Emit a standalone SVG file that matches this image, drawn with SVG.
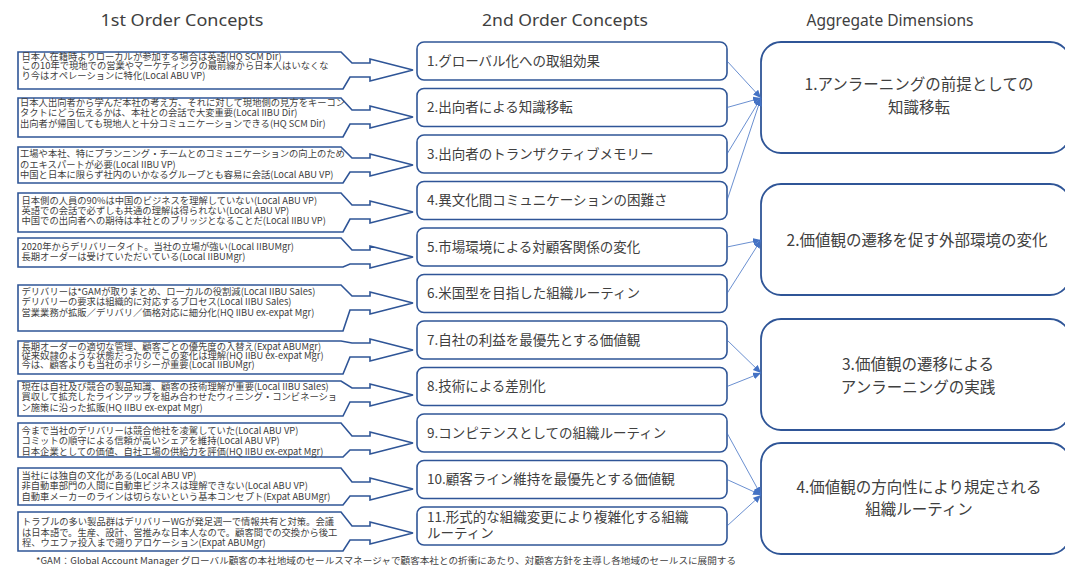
<svg xmlns="http://www.w3.org/2000/svg" width="1065" height="566" viewBox="0 0 1065 566">
  <style>
    .hdr { font-family: "Noto Sans", "Liberation Sans", sans-serif; font-size: 17px; fill: #404040; text-anchor: middle; }
    .call { fill: #ffffff; stroke: #2F5597; stroke-width: 1.6; stroke-linejoin: miter; }
    .ct { font-family: "Noto Sans CJK JP", "Noto Sans", sans-serif; font-size: 9.3px; fill: #404040; }
    .mid { fill: #ffffff; stroke: #2F5597; stroke-width: 1.6; }
    .mt { font-family: "Noto Sans CJK JP", "Noto Sans", sans-serif; font-size: 13.5px; fill: #404040; }
    .agg { fill: #ffffff; stroke: #2F5597; stroke-width: 1.8; }
    .at { font-family: "Noto Sans CJK JP", "Noto Sans", sans-serif; font-size: 15.5px; fill: #404040; text-anchor: middle; }
    .conn { stroke: #4472C4; stroke-width: 0.8; fill: none; marker-end: url(#arr); }
    .note { font-family: "Noto Sans CJK JP", "Noto Sans", sans-serif; font-size: 8.8px; fill: #404040; }
  </style>
  <defs>
    <marker id="arr" markerUnits="userSpaceOnUse" markerWidth="9" markerHeight="8" refX="8" refY="3.5" orient="auto">
      <path d="M0,0 L8,3.5 L0,7 z" fill="#4472C4"/>
    </marker>
  </defs>
  <rect width="1065" height="566" fill="#ffffff"/>

  <!-- column headings -->
  <g id="headers">
    <text class="hdr" x="182" y="26" textLength="163" lengthAdjust="spacingAndGlyphs">1st Order Concepts</text>
    <text class="hdr" x="565" y="26" textLength="166" lengthAdjust="spacingAndGlyphs">2nd Order Concepts</text>
    <text class="hdr" x="890" y="26" textLength="167" lengthAdjust="spacingAndGlyphs">Aggregate Dimensions</text>
  </g>

  <!-- 1st order concepts: quote callouts, each a multi-line text block -->
  <g id="q1">
    <polygon class="call" points="18,52 341,52 352,63 370,63 370,59 413,70 370,81 370,77 350,77 343,89 18,89"/>
    <text class="ct"><tspan x="21.5" y="59.5">日本人在籍時よりローカルが参加する場合は英語(HQ SCM Dir)</tspan><tspan x="21.5" y="69.3">この10年で現地での営業やマーケティングの最前線から日本人はいなくな</tspan><tspan x="21.5" y="79.1">り今はオペレーションに特化(Local ABU VP)</tspan></text>
  </g>
  <g id="q2">
    <polygon class="call" points="18,98 341,98 352,110 370,110 370,106 413,117 370,128 370,124 350,124 343,137 18,137"/>
    <text class="ct"><tspan x="20" y="105.5">日本人出向者から学んだ本社の考え方、それに対して現地側の見方をキーコン</tspan><tspan x="20" y="115.8">タクトにどう伝えるかは、本社との会話で大変重要(Local IIBU Dir)</tspan><tspan x="20" y="126.6">出向者が帰国しても現地人と十分コミュニケーションできる(HQ SCM Dir)</tspan></text>
  </g>
  <g id="q3">
    <polygon class="call" points="18,147 341,147 352,158 370,158 370,154 413,165 370,176 370,172 350,172 343,183 18,183"/>
    <text class="ct"><tspan x="20" y="156.8">工場や本社、特にプランニング・チームとのコミュニケーションの向上のため</tspan><tspan x="20" y="167.5">のエキスパートが必要(Local IIBU VP)</tspan><tspan x="20" y="178.2">中国と日本に限らず社内のいかなるグループとも容易に会話(Local ABU VP)</tspan></text>
  </g>
  <g id="q4">
    <polygon class="call" points="18,193 341,193 352,205 370,205 370,201 413,212 370,223 370,219 350,219 343,232 18,232"/>
    <text class="ct"><tspan x="21.5" y="203.5">日本側の人員の90%は中国のビジネスを理解していない(Local ABU VP)</tspan><tspan x="21.5" y="213.8">英語での会話で必ずしも共通の理解は得られない(Local ABU VP)</tspan><tspan x="21.5" y="224.2">中国での出向者への期待は本社とのブリッジとなることだ(Local IIBU VP)</tspan></text>
  </g>
  <g id="q5">
    <polygon class="call" points="18,238 341,238 352,250 370,250 370,246 413,257 370,268 370,264 350,264 343,267 18,267"/>
    <text class="ct"><tspan x="21.5" y="249.5">2020年からデリバリータイト。当社の立場が強い(Local IIBUMgr)</tspan><tspan x="21.5" y="259.6">長期オーダーは受けていただいている(Local IIBUMgr)</tspan></text>
  </g>
  <g id="q6">
    <polygon class="call" points="18,285 341,285 352,296 370,296 370,292 413,303 370,314 370,310 350,310 343,331 18,331"/>
    <text class="ct"><tspan x="21.5" y="294.8">デリバリーは*GAMが取りまとめ、ローカルの役割減(Local IIBU Sales)</tspan><tspan x="21.5" y="305.3">デリバリーの要求は組織的に対応するプロセス(Local IIBU Sales)</tspan><tspan x="21.5" y="315.8">営業業務が拡販／デリバリ／価格対応に細分化(HQ IIBU ex-expat Mgr)</tspan></text>
  </g>
  <g id="q7">
    <polygon class="call" points="18,341 341,341 352,343 370,343 370,339 413,350 370,361 370,357 350,357 343,374 18,374"/>
    <text class="ct"><tspan x="21.5" y="350">長期オーダーの適切な管理、顧客ごとの優先度の入替え(Expat ABUMgr)</tspan><tspan x="21.5" y="359.2">従来奴隷のような状態だったのでこの変化は理解(HQ IIBU ex-expat Mgr)</tspan><tspan x="21.5" y="368.4">今は、顧客よりも当社のポリシーが重要(Local IIBUMgr)</tspan></text>
  </g>
  <g id="q8">
    <polygon class="call" points="18,381 341,381 352,388 370,388 370,384 413,395 370,406 370,402 350,402 343,416 18,416"/>
    <text class="ct"><tspan x="21.5" y="389.5">現在は自社及び競合の製品知識、顧客の技術理解が重要(Local IIBU Sales)</tspan><tspan x="21.5" y="400">買収して拡充したラインアップを組み合わせたウィニング・コンビネーショ</tspan><tspan x="21.5" y="410.7">ン施策に沿った拡販(HQ IIBU ex-expat Mgr)</tspan></text>
  </g>
  <g id="q9">
    <polygon class="call" points="18,423 341,423 352,436 370,436 370,432 413,443 370,454 370,450 350,450 343,457 18,457"/>
    <text class="ct"><tspan x="21.5" y="433.5">今まで当社のデリバリーは競合他社を凌駕していた(Local ABU VP)</tspan><tspan x="21.5" y="444">コミットの順守による信頼が高いシェアを維持(Local ABU VP)</tspan><tspan x="21.5" y="454.5">日本企業としての価値、自社工場の供給力を評価(HQ IIBU ex-expat Mgr)</tspan></text>
  </g>
  <g id="q10">
    <polygon class="call" points="18,468 341,468 352,482 370,482 370,478 413,489 370,500 370,496 350,496 343,505 18,505"/>
    <text class="ct"><tspan x="21.5" y="478.5">当社には独自の文化がある(Local ABU VP)</tspan><tspan x="21.5" y="489">非自動車部門の人間に自動車ビジネスは理解できない(Local ABU VP)</tspan><tspan x="21.5" y="500">自動車メーカーのラインは切らないという基本コンセプト(Expat ABUMgr)</tspan></text>
  </g>
  <g id="q11">
    <polygon class="call" points="18,512 341,512 352,526 370,526 370,522 413,533 370,544 370,540 350,540 343,551 18,551"/>
    <text class="ct"><tspan x="22" y="525">トラブルの多い製品群はデリバリーWGが発足週一で情報共有と対策。会議</tspan><tspan x="22" y="535.7">は日本語で。生産、設計、営推みな日本人なので。顧客間での交換から後工</tspan><tspan x="22" y="546">程、ウエファ投入まで遡りアロケーション(Expat ABUMgr)</tspan></text>
  </g>

  <!-- 2nd order concepts -->
  <g id="c1"><rect class="mid" x="417" y="42" width="310" height="38" rx="7"/><text class="mt" x="427" y="65.5">1.グローバル化への取組効果</text></g>
  <g id="c2"><rect class="mid" x="417" y="88.5" width="310" height="38" rx="7"/><text class="mt" x="427" y="112">2.出向者による知識移転</text></g>
  <g id="c3"><rect class="mid" x="417" y="135" width="310" height="38" rx="7"/><text class="mt" x="427" y="158.5">3.出向者のトランザクティブメモリー</text></g>
  <g id="c4"><rect class="mid" x="417" y="181.5" width="310" height="38" rx="7"/><text class="mt" x="427" y="205">4.異文化間コミュニケーションの困難さ</text></g>
  <g id="c5"><rect class="mid" x="417" y="228" width="310" height="38" rx="7"/><text class="mt" x="427" y="251.5">5.市場環境による対顧客関係の変化</text></g>
  <g id="c6"><rect class="mid" x="417" y="274.5" width="310" height="38" rx="7"/><text class="mt" x="427" y="298">6.米国型を目指した組織ルーティン</text></g>
  <g id="c7"><rect class="mid" x="417" y="321" width="310" height="38" rx="7"/><text class="mt" x="427" y="344.5">7.自社の利益を最優先とする価値観</text></g>
  <g id="c8"><rect class="mid" x="417" y="367.5" width="310" height="38" rx="7"/><text class="mt" x="427" y="391">8.技術による差別化</text></g>
  <g id="c9"><rect class="mid" x="417" y="414" width="310" height="38" rx="7"/><text class="mt" x="427" y="437.5">9.コンピテンスとしての組織ルーティン</text></g>
  <g id="c10"><rect class="mid" x="417" y="460.5" width="310" height="38" rx="7"/><text class="mt" x="427" y="484">10.顧客ライン維持を最優先とする価値観</text></g>
  <g id="c11"><rect class="mid" x="417" y="507" width="310" height="38" rx="7"/><text class="mt"><tspan x="427" y="521.5">11.形式的な組織変更により複雑化する組織</tspan><tspan x="427" y="538">ルーティン</tspan></text></g>

  <!-- aggregate dimensions -->
  <g id="d1"><rect class="agg" x="761" y="42" width="309" height="111" rx="20"/><text class="at"><tspan x="919" y="90">1.アンラーニングの前提としての</tspan><tspan x="919" y="112.5">知識移転</tspan></text></g>
  <g id="d2"><rect class="agg" x="761" y="184" width="309" height="111" rx="20"/><text class="at" x="917" y="246">2.価値観の遷移を促す外部環境の変化</text></g>
  <g id="d3"><rect class="agg" x="761" y="319" width="309" height="111" rx="20"/><text class="at"><tspan x="918" y="370">3.価値観の遷移による</tspan><tspan x="918" y="392.5">アンラーニングの実践</tspan></text></g>
  <g id="d4"><rect class="agg" x="761" y="443" width="309" height="111" rx="20"/><text class="at"><tspan x="919" y="492.5">4.価値観の方向性により規定される</tspan><tspan x="919" y="515">組織ルーティン</tspan></text></g>

  <!-- connectors from 2nd order concepts to aggregate dimensions -->
  <g id="connectors">
    <line class="conn" x1="727" y1="61" x2="761" y2="98"/>
    <line class="conn" x1="727" y1="107.5" x2="761" y2="98"/>
    <line class="conn" x1="727" y1="154" x2="761" y2="98"/>
    <line class="conn" x1="727" y1="200.5" x2="761" y2="98"/>
    <line class="conn" x1="727" y1="247" x2="761" y2="240"/>
    <line class="conn" x1="727" y1="293.5" x2="761" y2="240"/>
    <line class="conn" x1="727" y1="340" x2="761" y2="373"/>
    <line class="conn" x1="727" y1="386.5" x2="761" y2="373"/>
    <line class="conn" x1="727" y1="433" x2="761" y2="495"/>
    <line class="conn" x1="727" y1="479.5" x2="761" y2="495"/>
    <line class="conn" x1="727" y1="526" x2="761" y2="495"/>
  </g>

  <text class="note" x="36" y="563.5" textLength="700" lengthAdjust="spacingAndGlyphs">*GAM：Global Account Manager グローバル顧客の本社地域のセールスマネージャで顧客本社との折衝にあたり、対顧客方針を主導し各地域のセールスに展開する</text>
</svg>
